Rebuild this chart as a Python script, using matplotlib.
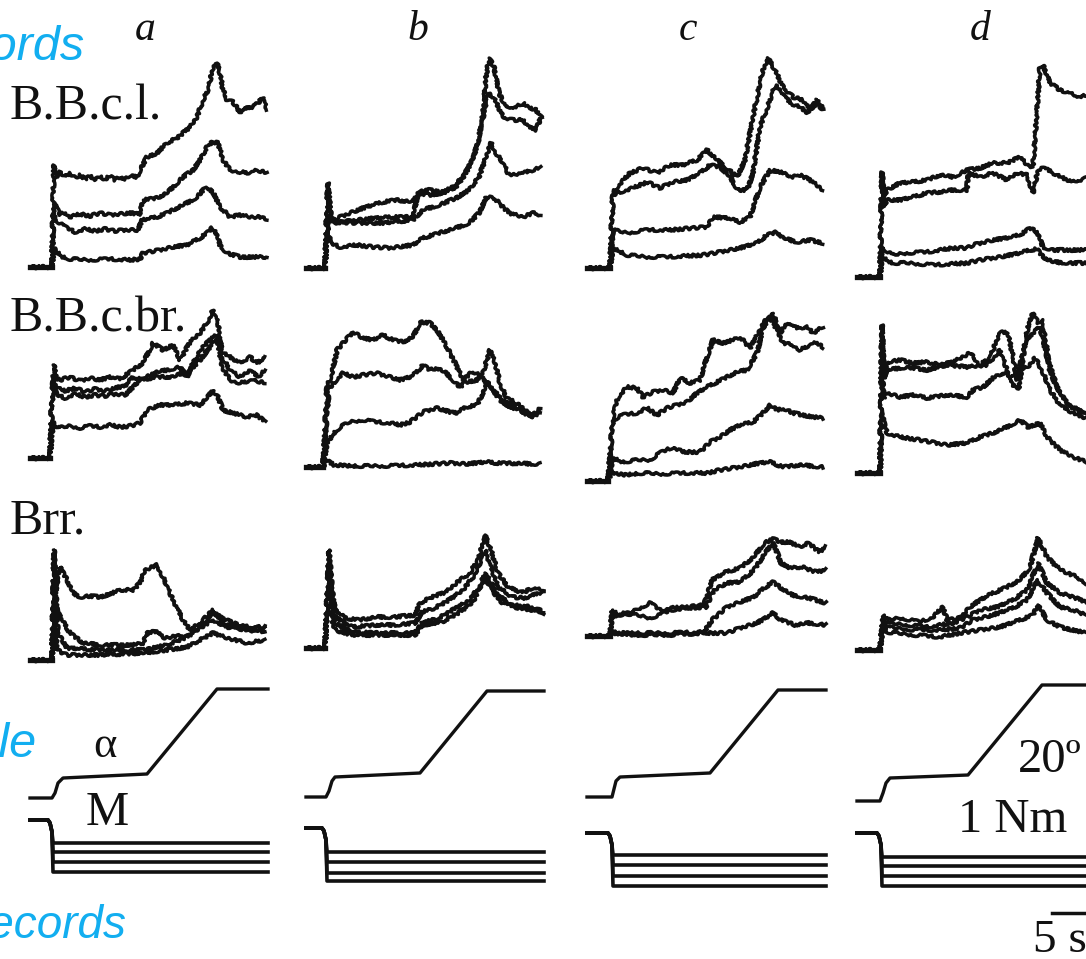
import matplotlib
matplotlib.use("Agg")
import matplotlib.pyplot as plt

W, H = 1086, 959
PX_PER_S = 10.0            # horizontal scale (5 s bar ~ 50 px)
INK = "#111111"
BLUE = "#12aef0"
SERIF = ["Liberation Serif", "DejaVu Serif"]
SANS = ["Liberation Sans", "DejaVu Sans"]

# panel layout (px): left end of each column, baseline of each row
COL_X0 = [30, 306, 587, 857]
BASE_BBCL = [267, 268, 268, 277]
BASE_BBCBR = [458, 467, 481, 473]
BASE_BRR = [660, 648, 636, 650]
BASE_ANGLE = [798, 797, 797, 801]
BASE_TORQUE = [820, 828, 833, 833]

# EMG envelopes, (time s, amplitude a.u.) -- four trials per panel
# --- B.B.c.l. ---
BBCL_A = [
    [(0, 0), (2.2, 0), (2.3, 60), (2.4, 102), (2.6, 90), (3.0, 95), (3.5, 90), (4.0, 94), (4.5, 89), (5.0, 92),
     (5.5, 88), (6.0, 91), (6.5, 87), (7.0, 90), (7.5, 88), (8.0, 91), (8.5, 87), (9.0, 90), (9.5, 88), (10.0, 91),
     (10.7, 90), (11.0, 97), (11.7, 110), (12.7, 114), (13.7, 124), (14.7, 129), (15.3, 134), (16.0, 140),
     (16.7, 150), (17.3, 167), (17.8, 177), (18.3, 200), (18.7, 204), (19.0, 194), (19.3, 177), (19.7, 167),
     (20.3, 165), (21.0, 155), (21.7, 159), (22.3, 160), (22.8, 164), (23.3, 170), (23.7, 157)],
    [(0, 0), (2.2, 0), (2.3, 40), (2.4, 64), (2.6, 60), (3.0, 52), (3.5, 55), (4.0, 50), (5.0, 53), (6.0, 51),
     (7.0, 54), (8.0, 52), (9.0, 53), (10.0, 54), (11.0, 53), (11.3, 67), (12.7, 69), (13.7, 74), (14.3, 80),
     (15.3, 90), (16.3, 97), (17.0, 107), (17.7, 120), (18.2, 125), (18.8, 124), (19.3, 107), (20.0, 97),
     (21.0, 95), (22.0, 94), (22.7, 97), (23.7, 94)],
    [(0, 0), (2.2, 0), (2.3, 35), (2.4, 54), (2.8, 45), (3.5, 40), (4.5, 35), (5.5, 38), (6.5, 36), (7.5, 38),
     (8.5, 36), (9.5, 37), (10.8, 37), (11.2, 47), (12.7, 50), (13.7, 54), (14.7, 59), (15.7, 64), (16.7, 70),
     (17.3, 77), (17.8, 79), (18.3, 75), (19.0, 60), (20.0, 50), (21.0, 52), (22.0, 50), (23.0, 50), (23.7, 47)],
    [(0, 0), (2.2, 0), (2.4, 19), (2.7, 15), (3.3, 10), (4.0, 8), (6.0, 7), (8.0, 8), (10.0, 7), (11.0, 8),
     (11.3, 14), (13.0, 17), (14.3, 20), (15.7, 22), (17.0, 29), (17.7, 34), (18.2, 39), (18.5, 37), (19.0, 22),
     (19.7, 14), (21.0, 10), (22.3, 10), (23.7, 10)],
]
BBCL_B = [
    [(0, 0), (1.9, 0), (2.2, 85), (2.5, 50), (2.7, 48), (4.4, 55), (6.0, 61), (7.7, 66), (9.0, 68), (10.7, 66),
     (11.2, 76), (12.3, 78), (13.7, 76), (14.7, 81), (15.7, 91), (16.5, 105), (17.2, 125), (17.7, 155),
     (18.0, 191), (18.3, 210), (18.8, 201), (19.3, 175), (20.0, 161), (21.0, 161), (21.7, 165), (22.3, 160),
     (23.0, 158), (23.5, 151)],
    [(0, 0), (1.9, 0), (2.2, 80), (2.5, 48), (2.7, 45), (5.1, 48), (7.1, 50), (8.7, 51), (10.7, 51), (11.2, 75),
     (12.3, 73), (13.7, 75), (15.0, 81), (16.0, 95), (16.9, 115), (17.6, 145), (18.1, 171), (18.4, 175),
     (18.9, 168), (19.7, 151), (20.7, 148), (21.7, 148), (22.3, 141), (23.0, 138), (23.5, 151)],
    [(0, 0), (1.9, 0), (2.2, 75), (2.5, 46), (2.7, 46), (5.1, 45), (7.7, 45), (10.7, 48), (11.7, 58), (13.3, 63),
     (15.0, 70), (16.3, 78), (17.3, 91), (18.0, 111), (18.5, 125), (19.0, 115), (19.7, 105), (20.3, 93),
     (21.7, 95), (22.7, 98), (23.5, 101)],
    [(0, 0), (1.9, 0), (2.2, 50), (2.4, 25), (3.4, 21), (5.1, 23), (6.7, 21), (8.4, 20), (10.7, 23), (11.7, 30),
     (13.3, 35), (15.0, 40), (16.3, 45), (17.3, 55), (18.0, 70), (18.7, 71), (19.3, 65), (20.3, 55), (21.7, 51),
     (22.7, 55), (23.5, 53)],
]
BBCL_C = [
    [(0, 0), (2.3, 0), (2.6, 75), (3.0, 81), (4.3, 95), (5.6, 100), (7.0, 95), (8.3, 103), (9.6, 103), (11.0, 108),
     (12.0, 118), (13.0, 108), (14.0, 100), (15.0, 91), (15.8, 108), (16.6, 151), (17.5, 195), (18.1, 210),
     (18.8, 198), (19.6, 181), (20.6, 171), (21.6, 168), (22.3, 158), (23.0, 168), (23.6, 161)],
    [(0, 0), (2.3, 0), (2.6, 72), (3.0, 75), (4.6, 80), (6.0, 86), (7.3, 80), (8.6, 86), (10.0, 88), (11.3, 95),
     (12.3, 103), (13.3, 101), (14.3, 91), (15.1, 78), (16.0, 78), (16.6, 95), (17.3, 141), (18.3, 168),
     (18.8, 183), (19.5, 176), (20.3, 165), (21.3, 161), (22.1, 155), (23.0, 165), (23.6, 158)],
    [(0, 0), (2.3, 0), (2.6, 38), (4.0, 35), (6.0, 38), (8.3, 38), (10.6, 40), (12.0, 41), (12.6, 51), (14.0, 50),
     (15.3, 46), (16.3, 51), (17.3, 81), (18.3, 98), (19.3, 96), (20.6, 91), (21.3, 93), (22.3, 88), (23.6, 78)],
    [(0, 0), (2.3, 0), (2.6, 20), (4.0, 13), (6.0, 11), (8.0, 11), (11.6, 13), (13.3, 16), (15.3, 20), (17.0, 25),
     (18.0, 33), (19.0, 36), (19.6, 30), (21.0, 26), (22.3, 28), (23.6, 25)],
]
BBCL_D = [
    [(0, 0), (2.3, 0), (2.5, 105), (2.7, 80), (3.0, 87), (4.3, 94), (5.6, 95), (7.0, 97), (8.3, 102), (9.6, 100),
     (11.0, 107), (12.3, 109), (13.6, 114), (15.0, 114), (16.3, 120), (17.0, 112), (17.6, 110), (18.3, 210),
     (18.6, 212), (19.3, 194), (20.3, 187), (21.3, 184), (22.3, 180), (23.0, 182)],
    [(0, 0), (2.3, 0), (2.5, 100), (2.7, 70), (3.0, 77), (4.3, 77), (5.6, 80), (7.0, 84), (8.3, 85), (9.6, 87),
     (11.0, 87), (11.1, 104), (12.3, 100), (13.6, 104), (15.0, 97), (16.0, 104), (17.0, 102), (17.6, 84),
     (18.1, 107), (18.6, 110), (19.6, 104), (20.6, 99), (21.6, 95), (23.0, 99)],
    [(0, 0), (2.3, 0), (2.5, 30), (3.5, 22), (5.0, 24), (7.0, 25), (9.6, 29), (11.0, 29), (11.6, 32), (13.6, 37),
     (15.6, 40), (16.6, 44), (17.3, 49), (18.0, 45), (18.6, 30), (19.6, 27), (21.3, 27), (23.0, 27)],
    [(0, 0), (2.3, 0), (2.5, 20), (3.5, 14), (5.0, 14), (7.6, 12), (11.0, 14), (12.3, 17), (14.3, 20), (16.3, 24),
     (17.3, 27), (18.0, 28), (18.6, 20), (19.6, 15), (21.3, 14), (23.0, 14)],
]

# --- B.B.c.br. ---
BBCBR_A = [
    [(0, 0), (2.0, 0), (2.2, 60), (2.4, 93), (2.6, 80), (3.0, 78), (4.0, 81), (5.0, 77), (6.0, 80), (7.0, 78),
     (8.0, 81), (9.0, 79), (10.3, 88), (11.3, 95), (12.3, 115), (13.3, 108), (14.3, 113), (15.0, 98), (16.0, 116),
     (17.0, 125), (17.7, 135), (18.3, 148), (18.8, 135), (19.2, 106), (20.0, 101), (21.0, 95), (22.0, 101),
     (22.7, 95), (23.5, 101)],
    [(0, 0), (2.0, 0), (2.2, 60), (2.4, 81), (2.7, 70), (3.5, 67), (4.5, 70), (5.5, 66), (6.5, 69), (7.5, 67),
     (8.5, 70), (9.5, 72), (10.3, 81), (11.3, 78), (12.3, 85), (13.7, 88), (15.0, 91), (15.7, 81), (16.3, 95),
     (17.3, 111), (18.3, 121), (18.8, 123), (19.2, 101), (20.0, 88), (21.0, 81), (22.0, 88), (22.8, 81),
     (23.5, 88)],
    [(0, 0), (2.0, 0), (2.2, 55), (2.4, 70), (2.7, 63), (3.5, 60), (4.5, 64), (5.5, 61), (6.5, 63), (7.5, 62),
     (8.5, 64), (9.5, 63), (11.0, 78), (12.7, 81), (14.3, 81), (16.0, 88), (17.0, 98), (18.0, 111), (18.7, 121),
     (19.2, 91), (20.0, 78), (21.0, 75), (22.3, 78), (23.5, 75)],
    [(0, 0), (2.0, 0), (2.2, 25), (2.4, 36), (2.8, 30), (4.0, 32), (5.0, 30), (6.0, 32), (7.0, 31), (8.0, 33),
     (9.0, 31), (10.0, 32), (11.0, 35), (11.7, 48), (13.0, 53), (14.3, 53), (15.7, 55), (17.0, 53), (17.7, 60),
     (18.3, 68), (18.8, 61), (19.3, 48), (20.3, 45), (21.7, 41), (22.7, 43), (23.5, 36)],
]
BBCBR_B = [
    [(0, 0), (1.7, 0), (2.1, 80), (2.6, 94), (3.1, 117), (3.7, 124), (4.7, 135), (5.7, 129), (6.7, 127),
     (7.7, 132), (8.7, 127), (9.7, 125), (10.7, 130), (11.4, 145), (12.4, 144), (13.1, 137), (13.7, 127),
     (14.4, 114), (15.1, 100), (15.7, 87), (16.6, 95), (17.2, 94), (17.8, 87), (18.7, 77), (19.7, 67),
     (21.0, 60), (22.4, 52), (23.4, 55)],
    [(0, 0), (1.7, 0), (2.0, 40), (2.3, 77), (3.0, 87), (3.7, 94), (4.7, 90), (5.7, 92), (7.0, 94), (8.4, 90),
     (9.4, 87), (10.4, 90), (11.0, 94), (11.7, 102), (12.4, 97), (13.1, 99), (14.0, 94), (14.7, 87), (15.4, 80),
     (16.0, 85), (17.1, 87), (17.7, 94), (18.4, 117), (18.9, 104), (19.4, 84), (20.0, 70), (21.0, 64),
     (22.0, 57), (22.7, 50), (23.4, 59)],
    [(0, 0), (1.7, 0), (2.1, 24), (2.8, 34), (3.4, 40), (4.4, 45), (5.7, 47), (7.0, 45), (8.4, 44), (9.4, 42),
     (10.4, 45), (11.7, 55), (13.1, 59), (14.4, 55), (15.1, 54), (16.0, 60), (17.1, 62), (17.7, 74), (18.2, 85),
     (18.7, 77), (19.4, 67), (20.4, 60), (21.4, 57), (22.4, 50), (23.4, 54)],
    [(0, 0), (1.7, 0), (2.1, 7), (2.8, 2), (5.0, 1), (8.0, 1), (11.0, 2), (14.4, 4), (16.0, 3), (18.0, 5),
     (19.0, 4), (23.4, 3)],
]
BBCBR_C = [
    [(0, 0), (2.1, 0), (2.6, 64), (3.1, 84), (4.0, 94), (5.0, 93), (5.6, 84), (6.6, 89), (7.6, 91), (8.6, 88),
     (9.3, 103), (10.3, 98), (11.3, 101), (12.0, 124), (12.6, 141), (13.6, 138), (14.6, 141), (15.3, 144),
     (16.3, 133), (17.3, 151), (18.0, 163), (18.6, 168), (19.3, 148), (20.0, 158), (21.0, 153), (22.0, 154),
     (22.6, 148), (23.6, 154)],
    [(0, 0), (2.1, 0), (2.6, 61), (3.6, 66), (5.0, 68), (6.0, 73), (7.0, 66), (8.0, 73), (9.0, 76), (10.0, 79),
     (11.0, 88), (12.0, 94), (13.0, 99), (14.0, 104), (15.0, 109), (16.0, 111), (17.0, 128), (17.6, 153),
     (18.3, 164), (19.0, 151), (19.6, 138), (20.6, 136), (21.3, 131), (22.3, 136), (23.0, 139), (23.6, 133)],
    [(0, 0), (2.1, 0), (2.6, 23), (3.6, 19), (5.0, 21), (6.3, 21), (7.3, 28), (8.6, 34), (9.6, 29), (11.3, 29),
     (12.3, 39), (13.3, 44), (14.3, 51), (15.3, 56), (16.6, 59), (17.6, 68), (18.3, 76), (19.0, 71), (19.6, 73),
     (20.6, 68), (21.6, 66), (22.6, 64), (23.6, 63)],
    [(0, 0), (2.1, 0), (2.6, 9), (3.6, 6), (5.6, 8), (7.3, 7), (10.0, 8), (12.0, 8), (13.3, 11), (15.3, 14),
     (17.3, 18), (18.3, 19), (19.6, 14), (21.3, 16), (23.6, 14)],
]
BBCBR_D = [
    [(0, 0), (2.3, 0), (2.5, 148), (2.7, 100), (3.0, 111), (4.3, 113), (5.6, 110), (7.0, 111), (8.3, 108),
     (9.6, 111), (11.3, 120), (12.3, 108), (13.3, 116), (14.3, 141), (15.1, 140), (15.6, 116), (16.0, 93),
     (16.5, 116), (17.1, 146), (17.6, 160), (18.1, 150), (18.6, 153), (19.3, 100), (20.3, 80), (21.3, 66),
     (22.9, 60)],
    [(0, 0), (2.3, 0), (2.5, 140), (2.7, 95), (3.0, 103), (5.0, 106), (7.0, 103), (9.0, 108), (11.0, 106),
     (13.0, 108), (14.3, 123), (15.0, 103), (15.5, 88), (16.2, 85), (16.8, 130), (17.6, 140), (18.3, 146),
     (19.0, 116), (20.0, 86), (21.0, 70), (22.9, 58)],
    [(0, 0), (2.3, 0), (2.5, 100), (2.7, 75), (3.0, 80), (4.3, 76), (5.6, 78), (7.0, 75), (9.0, 78), (11.0, 76),
     (11.6, 83), (12.6, 86), (13.6, 95), (14.6, 100), (15.5, 96), (16.3, 103), (17.1, 106), (17.8, 115),
     (18.5, 103), (19.3, 83), (20.3, 68), (21.6, 60), (22.9, 55)],
    [(0, 0), (2.3, 0), (2.5, 60), (2.7, 50), (3.0, 40), (4.3, 36), (6.3, 33), (9.0, 28), (11.0, 30), (12.3, 36),
     (13.6, 40), (15.0, 46), (16.3, 53), (17.1, 46), (18.3, 50), (19.0, 36), (20.3, 23), (21.6, 16), (22.9, 11)],
]

# --- Brr. ---
BRR_A = [
    [(0, 0), (2.2, 0), (2.4, 110), (2.6, 70), (3.0, 93), (3.7, 80), (4.3, 67), (5.0, 63), (6.0, 64), (7.0, 63),
     (8.0, 66), (9.0, 70), (10.3, 70), (11.0, 77), (11.5, 90), (12.7, 95), (13.3, 83), (14.3, 60), (15.3, 40),
     (16.0, 30), (17.0, 37), (18.3, 50), (19.0, 43), (20.3, 37), (22.0, 33), (23.5, 33)],
    [(0, 0), (2.2, 0), (2.4, 100), (2.7, 50), (3.2, 40), (4.0, 27), (5.3, 17), (7.0, 15), (10.3, 15), (11.3, 17),
     (11.8, 28), (12.8, 28), (13.3, 22), (15.7, 25), (17.0, 33), (18.3, 47), (19.3, 37), (21.0, 33), (23.5, 32)],
    [(0, 0), (2.2, 0), (2.4, 80), (2.8, 27), (3.7, 12), (7.0, 10), (11.3, 10), (13.7, 15), (15.7, 23), (17.0, 32),
     (18.3, 40), (19.7, 33), (21.7, 30), (23.5, 28)],
    [(0, 0), (2.2, 0), (2.4, 60), (2.7, 10), (3.7, 5), (7.0, 5), (11.3, 7), (13.7, 10), (15.7, 13), (17.0, 20),
     (18.3, 27), (19.7, 22), (21.7, 17), (23.5, 20)],
]
BRR_B = [
    [(0, 0), (1.9, 0), (2.3, 98), (2.6, 60), (2.9, 38), (3.9, 30), (5.3, 28), (7.1, 31), (8.8, 31), (10.9, 33),
     (11.4, 45), (12.6, 51), (14.0, 56), (15.4, 68), (16.4, 75), (17.3, 91), (17.9, 113), (18.5, 98), (19.2, 75),
     (20.2, 61), (21.6, 55), (22.6, 60), (23.8, 58)],
    [(0, 0), (1.9, 0), (2.3, 90), (2.6, 45), (2.9, 31), (4.6, 21), (7.1, 23), (8.8, 23), (10.9, 25), (11.6, 36),
     (12.9, 40), (14.3, 48), (15.7, 58), (16.7, 71), (17.4, 85), (17.9, 98), (18.5, 81), (19.2, 61), (20.6, 51),
     (21.9, 50), (23.3, 55), (23.8, 55)],
    [(0, 0), (1.9, 0), (2.3, 85), (2.6, 35), (2.9, 25), (4.6, 16), (7.1, 15), (10.9, 15), (11.6, 25), (13.3, 30),
     (15.0, 40), (16.4, 48), (17.4, 63), (17.9, 75), (18.5, 66), (19.2, 53), (20.6, 43), (22.6, 41), (23.8, 36)],
    [(0, 0), (1.9, 0), (2.3, 80), (2.6, 28), (2.9, 18), (4.6, 13), (8.8, 13), (10.9, 13), (11.6, 23), (13.6, 26),
     (15.4, 36), (16.7, 46), (17.6, 65), (17.9, 70), (18.6, 58), (19.5, 46), (21.2, 40), (22.6, 38), (23.8, 35)],
]
BRR_C = [
    [(0, 0), (2.3, 0), (2.5, 26), (3.2, 21), (4.2, 23), (4.9, 26), (6.3, 33), (7.3, 26), (8.4, 28), (10.1, 29),
     (11.7, 31), (12.5, 56), (13.9, 64), (15.3, 68), (16.7, 79), (17.7, 93), (18.6, 97), (19.4, 94), (20.3, 94),
     (21.2, 89), (22.2, 93), (23.2, 84), (23.9, 89)],
    [(0, 0), (2.3, 0), (2.5, 19), (3.5, 23), (4.9, 21), (6.3, 18), (7.3, 21), (8.4, 26), (10.1, 28), (11.9, 29),
     (12.7, 46), (14.0, 53), (15.3, 54), (16.7, 66), (17.7, 81), (18.6, 94), (19.4, 73), (20.3, 68), (21.5, 69),
     (22.9, 64), (23.9, 66)],
    [(0, 0), (2.3, 0), (2.5, 4), (3.5, 3), (8.4, 3), (11.7, 4), (12.5, 16), (14.0, 29), (15.3, 34), (16.7, 39),
     (17.7, 48), (18.6, 54), (19.4, 48), (20.5, 41), (22.2, 38), (23.9, 33)],
    [(0, 0), (2.3, 0), (2.5, 3), (4.9, 1), (8.4, 1), (11.9, 3), (14.0, 3), (15.3, 8), (17.0, 13), (18.0, 19),
     (18.6, 23), (19.4, 16), (20.8, 11), (22.2, 13), (23.9, 11)],
]
BRR_D = [
    [(0, 0), (2.3, 0), (2.6, 35), (3.0, 30), (4.3, 32), (6.3, 28), (7.6, 33), (8.6, 43), (9.0, 30), (10.3, 32),
     (11.3, 43), (12.3, 50), (13.6, 57), (15.0, 63), (16.3, 70), (17.3, 83), (18.1, 112), (19.0, 93), (20.0, 83),
     (21.0, 77), (22.0, 73), (22.9, 67)],
    [(0, 0), (2.3, 0), (2.6, 32), (3.0, 27), (5.0, 25), (7.0, 23), (9.6, 27), (11.0, 33), (12.3, 40), (14.0, 43),
     (15.6, 50), (17.0, 60), (18.1, 87), (19.0, 67), (20.3, 57), (21.6, 53), (22.9, 48)],
    [(0, 0), (2.3, 0), (2.6, 30), (3.0, 23), (5.6, 20), (8.3, 20), (10.3, 22), (11.6, 30), (13.6, 35), (15.6, 42),
     (17.0, 50), (18.1, 70), (19.0, 57), (20.3, 43), (21.6, 40), (22.9, 35)],
    [(0, 0), (2.3, 0), (2.6, 25), (3.0, 18), (5.6, 15), (8.3, 13), (10.3, 17), (12.3, 20), (14.3, 23), (16.3, 30),
     (17.6, 35), (18.1, 45), (19.0, 30), (20.3, 23), (21.6, 20), (22.9, 17)],
]

# joint angle alpha (a.u.) per column
ANGLE = [
    [(0, 0), (2.2, 0), (2.5, 5), (2.8, 15), (3.3, 20), (11.7, 24), (18.7, 109), (23.8, 109)],
    [(0, 0), (2.0, 0), (2.3, 6), (2.6, 16), (2.9, 20), (11.4, 24), (18.1, 106), (23.8, 106)],
    [(0, 0), (2.5, 0), (2.7, 8), (2.9, 16), (3.3, 20), (12.3, 24), (19.1, 107), (23.9, 107)],
    [(0, 0), (2.3, 0), (2.6, 8), (2.9, 18), (3.3, 23), (11.1, 26), (18.5, 116), (24.0, 116)],
]

# torque M: drop time, end time and the four load levels per column
TORQUE_DROP = [2.0, 1.8, 2.3, 2.2]
TORQUE_END = [23.8, 23.8, 23.9, 24.0]
TORQUE_LEVELS = [
    [-23, -32, -42, -52],
    [-24, -34, -45, -53],
    [-22, -32, -43, -53],
    [-24, -33, -43, -53],
]

EMG_ROWS = [
    (BASE_BBCL, [BBCL_A, BBCL_B, BBCL_C, BBCL_D]),
    (BASE_BBCBR, [BBCBR_A, BBCBR_B, BBCBR_C, BBCBR_D]),
    (BASE_BRR, [BRR_A, BRR_B, BRR_C, BRR_D]),
]


def to_px(trace, x0, base):
    xs = [x0 + t * PX_PER_S for t, _ in trace]
    ys = [base - a for _, a in trace]
    return xs, ys


fig = plt.figure(figsize=(W / 100, H / 100), dpi=100)
ax = fig.add_axes([0, 0, 1, 1])
ax.set_xlim(0, W)
ax.set_ylim(H, 0)
ax.axis("off")

for bases, panels in EMG_ROWS:
    for col, traces in enumerate(panels):
        for tr in traces:
            xs, ys = to_px(tr, COL_X0[col], bases[col])
            ln, = ax.plot(xs, ys, color=INK, lw=2.5, solid_joinstyle="round")
            ln.set_sketch_params(scale=1.4, length=5, randomness=8)
        onset = traces[0][1][0]
        ax.plot([COL_X0[col], COL_X0[col] + onset * PX_PER_S], [bases[col]] * 2, color=INK, lw=3.8)

for col in range(4):
    xs, ys = to_px(ANGLE[col], COL_X0[col], BASE_ANGLE[col])
    ax.plot(xs, ys, color=INK, lw=2.4)
    on = TORQUE_DROP[col]
    for lev in TORQUE_LEVELS[col]:
        tr = [(0, 0), (on - 0.2, 0), (on, -3), (on + 0.2, -12), (on + 0.3, lev), (TORQUE_END[col], lev)]
        xs, ys = to_px(tr, COL_X0[col], BASE_TORQUE[col])
        ax.plot(xs, ys, color=INK, lw=2.6)

# column letters
for lab, x in zip("abcd", [145, 418, 688, 980]):
    ax.text(x, 40, lab, fontsize=30, style="italic", family=SERIF, color=INK, ha="center", va="baseline")

# muscle and signal labels
ax.text(10, 120, "B.B.c.l.", fontsize=36, family=SERIF, color=INK, va="baseline")
ax.text(10, 331, "B.B.c.br.", fontsize=36, family=SERIF, color=INK, va="baseline")
ax.text(10, 534, "Brr.", fontsize=36, family=SERIF, color=INK, va="baseline")
ax.text(105, 757, "\u03b1", fontsize=32, family=SERIF, color=INK, ha="center", va="baseline")
ax.text(107, 825, "M", fontsize=35, family=SERIF, color=INK, ha="center", va="baseline")
ax.text(1018, 772, "20\u00ba", fontsize=35, family=SERIF, color=INK, va="baseline")
ax.text(958, 832, "1 Nm", fontsize=35, family=SERIF, color=INK, va="baseline")
ax.text(1033, 952, "5 s", fontsize=34, family=SERIF, color=INK, va="baseline")
ax.plot([1052, 1102], [913, 913], color=INK, lw=2.5)

# blue section labels (cut at the left edge)
ax.text(84, 60, "records", fontsize=35, style="italic", family=SANS, color=BLUE, ha="right", va="baseline")
ax.text(37, 757, "Angle", fontsize=35, style="italic", family=SANS, color=BLUE, ha="right", va="baseline")
ax.text(126, 938, "records", fontsize=33, style="italic", family=SANS, color=BLUE, ha="right", va="baseline")

fig.savefig("out.png", dpi=100, facecolor="white")
